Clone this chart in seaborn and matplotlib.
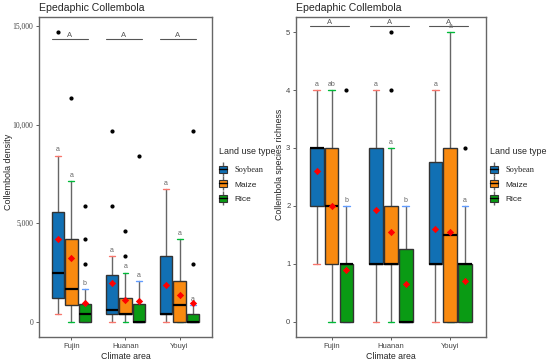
import numpy as np
import seaborn as sns
from matplotlib import pyplot as plt
from matplotlib.lines import Line2D
from matplotlib.patches import Patch
from matplotlib.legend_handler import HandlerTuple
from matplotlib.ticker import FuncFormatter

areas = ["Fujin", "Huanan", "Youyi"]
land_types = ["Soybean", "Maize", "Rice"]

# collembola density, order: Fujin S/M/R, Huanan S/M/R, Youyi S/M/R
dens_q1 = [1230, 845, 0, 390, 390, 0, 390, 0, 0]
dens_med = [2500, 1655, 420, 625, 390, 0, 390, 845, 0]
dens_q3 = [5570, 4190, 930, 2380, 1230, 930, 3330, 2080, 420]
dens_lo = [390, 0, 0, 0, 0, 0, 0, 0, 0]
dens_hi = [8425, 7140, 1655, 3330, 2500, 2080, 6720, 4190, 845]
dens_mean = [4220, 3260, 960, 1990, 1100, 1060, 1870, 1370, 960]
dens_fliers = [[14700], [11330], [5880, 4190, 2920], [9660, 5880], [4610, 3330],
               [8410], [], [], [9660, 2920]]
dens_letters = ["a", "a", "b", "a", "a", "a", "a", "a", "a"]

# species richness
rich_q1 = [2, 1, 0, 1, 1, 0, 1, 0, 0]
rich_med = [3, 2, 1, 1, 1, 0, 1, 1.5, 1]
rich_q3 = [3, 3, 1, 3, 2, 1.25, 2.75, 3, 1]
rich_lo = [1, 0, 0, 0, 0, 0, 0, 0, 0]
rich_hi = [4, 4, 2, 4, 3, 2, 4, 5, 2]
rich_mean = [2.6, 2.0, 0.9, 1.93, 1.55, 0.66, 1.6, 1.55, 0.71]
rich_fliers = [[], [], [4], [], [5, 4], [], [], [], [3]]
rich_letters = ["a", "ab", "b", "a", "a", "b", "a", "a", "a"]

group_letters = ["A", "A", "A"]

fills = ["#1170b4", "#f98a10", "#0a9b14"]
caps = ["#f8766d", "#00ba38", "#619cff"]

sns.set_theme(style="white")
plt.rcParams["font.family"] = ["Liberation Sans", "DejaVu Sans"]

fig = plt.figure(figsize=(5.5, 3.62), dpi=100)
ax1 = fig.add_axes([0.0709, 0.0691, 0.3145, 0.884])
ax2 = fig.add_axes([0.538, 0.0691, 0.3455, 0.884])


def draw_panel(ax, q1, med, q3, lo, hi, mean, fliers, letters, ylim, bar_y, off):
    stats, pos = [], []
    for i in range(len(areas)):
        for j in range(len(land_types)):
            k = i * 3 + j
            stats.append(dict(q1=q1[k], med=med[k], q3=q3[k], whislo=lo[k],
                              whishi=hi[k], fliers=np.array(fliers[k], float)))
            pos.append(i + (j - 1) * 0.25)
    bp = ax.bxp(stats, positions=pos, widths=0.23, patch_artist=True,
                capwidths=0.11, manage_ticks=False,
                boxprops=dict(edgecolor="#333333", linewidth=1),
                medianprops=dict(color="black", linewidth=1.6),
                whiskerprops=dict(color="#666666", linewidth=1),
                flierprops=dict(marker="o", markersize=2, markerfacecolor="black",
                                markeredgecolor="black"))
    for k, box in enumerate(bp["boxes"]):
        box.set_facecolor(fills[k % 3])
        box.set_zorder(3)
        bp["medians"][k].set_zorder(4)
    for k, cap in enumerate(bp["caps"]):
        cap.set_color(caps[(k // 2) % 3])
        cap.set_linewidth(1)
    # red means
    sns.scatterplot(x=pos, y=mean, ax=ax, color="red", marker="D", s=14,
                    linewidth=0, zorder=5, legend=False)
    for k, p in enumerate(pos):
        ax.text(p, hi[k] + off, letters[k], ha="center", va="bottom",
                fontsize=5, color="#666666")
    for i in range(len(areas)):
        ax.plot([i - 0.36, i + 0.3], [bar_y, bar_y], color="#555555", lw=0.8)
        ax.text(i - 0.03, bar_y, group_letters[i], ha="center", va="bottom",
                fontsize=5.5, color="#555555")
    ax.set_xlim(-0.6, 2.6)
    ax.set_ylim(*ylim)
    ax.set_xticks(range(len(areas)))
    ax.set_xticklabels(areas)
    ax.set_xlabel("Climate area", fontsize=6.3, labelpad=2)
    ax.set_title("Epedaphic Collembola", loc="left", fontsize=7.6, pad=4)
    ax.tick_params(axis="both", length=2.5, width=0.6, color="#444444",
                   labelsize=5.5, labelcolor="#444444", pad=1.5, bottom=True, left=True)
    for s in ax.spines.values():
        s.set_color("#666666")
        s.set_linewidth(1)


draw_panel(ax1, dens_q1, dens_med, dens_q3, dens_lo, dens_hi, dens_mean,
           dens_fliers, dens_letters, (-760, 15450), 14340, 120)
ax1.set_yticks([0, 5000, 10000, 15000])
ax1.yaxis.set_major_formatter(FuncFormatter(lambda v, p: f"{int(v):,}"))
for t in ax1.get_yticklabels():
    t.set_family("Liberation Serif")
ax1.set_ylabel("Collembola density", fontsize=6.5)
ax1.yaxis.set_label_coords(-0.15, 0.515)

draw_panel(ax2, rich_q1, rich_med, rich_q3, rich_lo, rich_hi, rich_mean,
           rich_fliers, rich_letters, (-0.26, 5.26), 5.11, 0.03)
ax2.set_yticks([0, 1, 2, 3, 4, 5])
ax2.set_ylabel("Collembola species richness", fontsize=6.3)
ax2.yaxis.set_label_coords(-0.063, 0.54)


def legend_handles():
    hs = []
    for j in range(3):
        whisk = Line2D([], [], color="#666666", marker="|", markersize=10,
                       linestyle="none", markeredgewidth=1)
        patch = Patch(facecolor=fills[j], edgecolor="#333333", linewidth=0.8)
        medl = Line2D([], [], color="black", linewidth=1)
        hs.append((whisk, patch, medl))
    return hs


for xa in (219 / 550, 490 / 550):
    leg = fig.legend(legend_handles(), land_types, loc="upper left",
                     bbox_to_anchor=(xa, 1 - 147 / 362), frameon=False,
                     title="Land use type", fontsize=6, title_fontsize=6.4,
                     handler_map={tuple: HandlerTuple(ndivide=1)},
                     handlelength=1.0, handleheight=0.9, handletextpad=0.9,
                     labelspacing=0.75, borderaxespad=0, borderpad=0)
    leg._legend_box.align = "left"
    leg._legend_box.sep = 7
    leg.get_texts()[0].set_family("Liberation Serif")

fig.savefig("out.png", dpi=100)
